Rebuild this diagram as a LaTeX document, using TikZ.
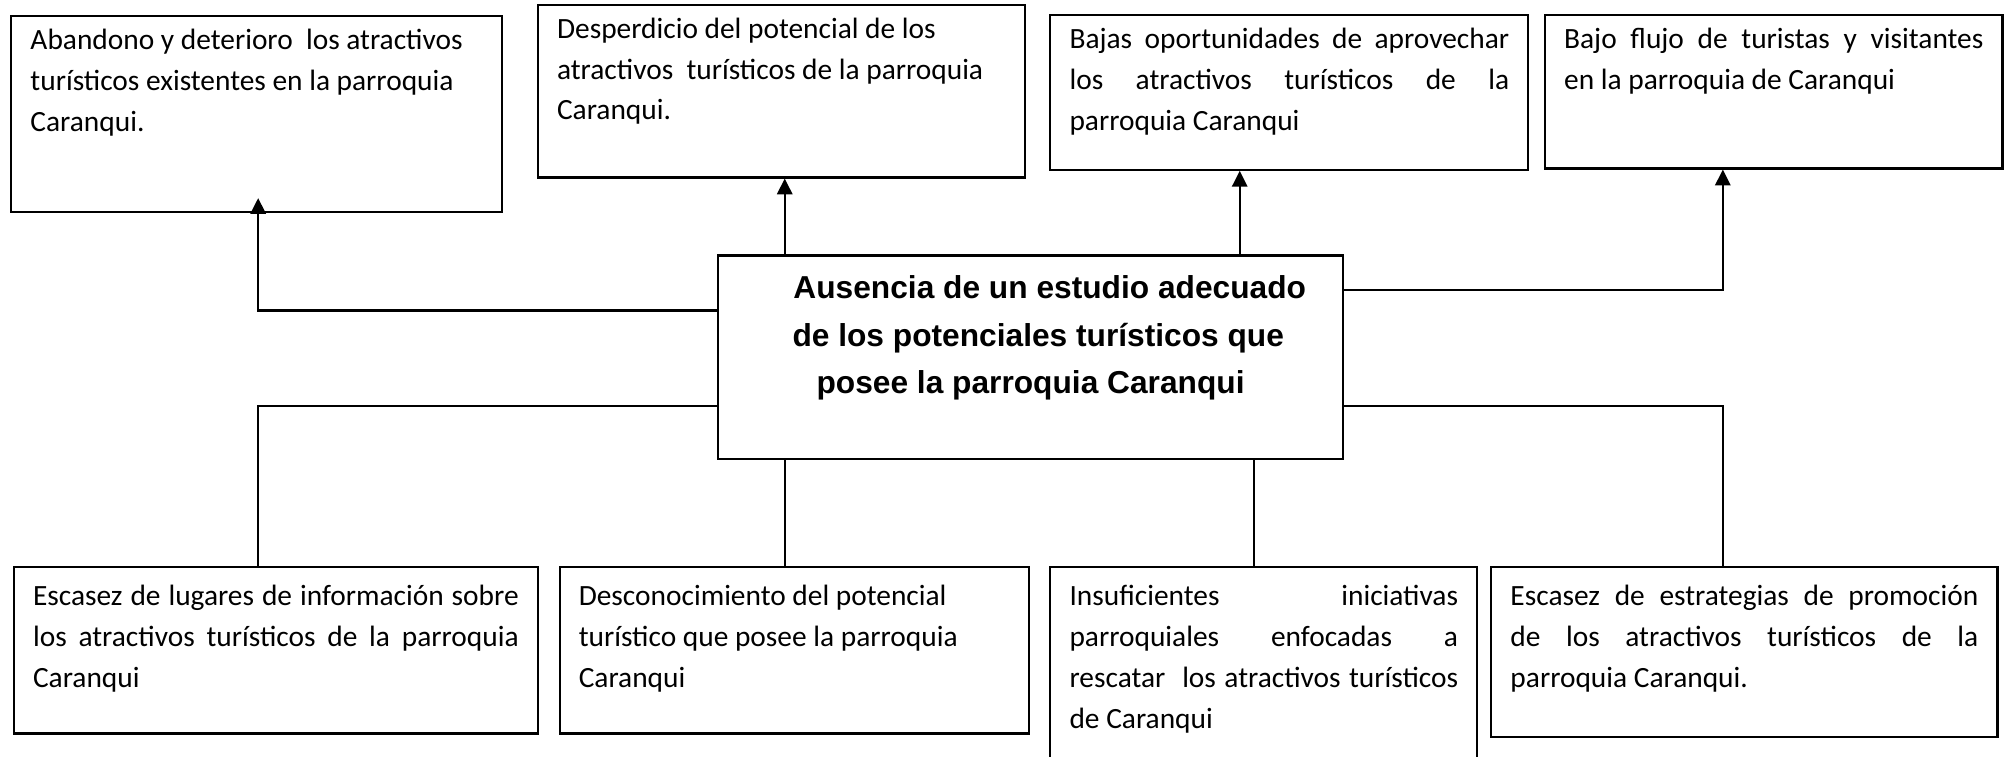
\documentclass[tikz,border=0pt]{standalone}
\usepackage{fontspec}
\setmainfont{Carlito}
\newfontfamily\arialfont{Liberation Sans}
\usetikzlibrary{arrows.meta}
\newcommand{\caja}[4][13pt]{\parbox[c][#3][t]{#2}{\rule{0pt}{#1}#4}}
\newcommand{\just}[1]{\makebox[\linewidth][s]{#1}}

\begin{document}
\begin{tikzpicture}[x=0.5pt, y=-0.5pt,
  box/.style={draw, line width=0.85pt, anchor=north west, inner xsep=7.5pt, inner ysep=0pt, font=\fontsize{11.5}{16}\selectfont},
  prob/.style={draw, line width=0.85pt, anchor=north west, inner sep=0pt, font=\arialfont\bfseries\fontsize{12.4}{18.5}\selectfont},
  flecha/.style={-{Triangle[length=6.2pt, width=6pt]}, line width=0.9pt},
  linea/.style={line width=0.8pt}]
  \useasboundingbox (0,0) rectangle (1568,592);
  \node[box] (ef1) at (8,12) {\caja{177pt}{76.5pt}{Abandono y deterioro~ los atractivos\\ turísticos existentes en la parroquia\\ Caranqui.}};
  \node[box] (ef2) at (420,3) {\caja{175.5pt}{67.5pt}{Desperdicio del potencial de los\\ atractivos~ turísticos de la parroquia\\ Caranqui.}};
  \node[box] (ef3) at (821,11) {\caja{172pt}{60.5pt}{\just{Bajas oportunidades de aprovechar}\\ \just{los atractivos turísticos de la}\\ parroquia Caranqui}};
  \node[box] (ef4) at (1208,11) {\caja{164pt}{60pt}{\just{Bajo flujo de turistas y visitantes}\\ en la parroquia de Caranqui}};
  \node[prob] (pb) at (561,199) {\caja[17pt]{244.5pt}{79.5pt}{\centering \hspace*{15pt}Ausencia de un estudio adecuado\\ \hspace*{6pt}de los potenciales turísticos que\\ posee la parroquia Caranqui}};
  \node[box] (ca1) at (10,443) {\caja[15pt]{190pt}{65pt}{\just{Escasez de lugares de información sobre}\\ \just{los atractivos turísticos de la parroquia}\\ Caranqui}};
  \node[box] (ca2) at (437,443) {\caja[15pt]{168.5pt}{65pt}{Desconocimiento del potencial\\ turístico que posee la parroquia\\ Caranqui}};
  \node[box] (ca3) at (821,443) {\caja[15pt]{152pt}{78.5pt}{\just{Insuficientes iniciativas}\\ \just{parroquiales enfocadas a}\\ \just{rescatar~ los atractivos turísticos}\\ de Caranqui}};
  \node[box] (ca4) at (1166,443) {\caja[15pt]{183pt}{66.5pt}{\just{Escasez de estrategias de promoción}\\ \just{de los atractivos turísticos de la}\\ parroquia Caranqui.}};
  \coordinate (ya) at (0,243);
  \coordinate (yb) at (0,227);
  \coordinate (yc) at (0,318);
  \coordinate (xa) at (202,0);
  \coordinate (xb) at (614,0);
  \coordinate (xc) at (970,0);
  \coordinate (xd) at (1348,0);
  \coordinate (xe) at (981,0);
  \coordinate (t1) at (202,155);
  \draw[flecha] (pb.west |- ya) -| (t1);
  \draw[flecha] (pb.north -| xb) -- (ef2.south -| xb);
  \draw[flecha] (pb.north -| xc) -- (ef3.south -| xc);
  \draw[flecha] (pb.east |- yb) -| (ef4.south -| xd);
  \draw[linea] (pb.west |- yc) -| (ca1.north -| xa);
  \draw[linea] (pb.south -| xb) -- (ca2.north -| xb);
  \draw[linea] (pb.south -| xe) -- (ca3.north -| xe);
  \draw[linea] (pb.east |- yc) -| (ca4.north -| xd);
\end{tikzpicture}
\end{document}
